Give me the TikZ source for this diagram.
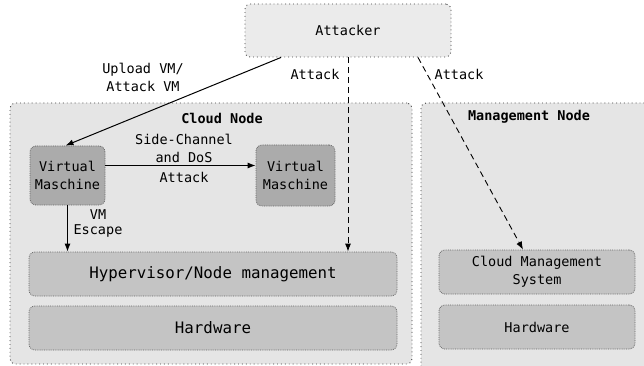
\documentclass[tikz,border=0pt]{standalone}
\usepackage{fontspec}
\setmainfont{DejaVu Sans Mono}
\usetikzlibrary{arrows.meta}
\begin{document}
\begin{tikzpicture}[x=1pt,y=-1pt,
  txt/.style={font=\fontsize{13.5}{18}\selectfont, align=center, inner sep=2pt},
  bigtxt/.style={font=\fontsize{15.8}{19}\selectfont, align=center},
  region/.style={draw=black!75, line width=0.9pt, dash pattern=on 0.9pt off 3pt,
    fill=black!10, rounded corners=5pt, inner sep=0pt},
  layer/.style={draw=black!60, line width=0.8pt, dash pattern=on 0.8pt off 1pt,
    fill=black!23, rounded corners=6pt, inner sep=0pt},
  vmbox/.style={layer, fill=black!33},
  flow/.style={line width=1pt, -{Latex[length=8pt,width=6pt]}},
  attack/.style={line width=0.9pt, dash pattern=on 6pt off 4pt, -{Latex[length=8pt,width=6pt]}}
]
\useasboundingbox (0,0) rectangle (644,366);

% outer regions
\node[region, minimum width=240pt, minimum height=275pt] (mgmt) at (541,240.5) {};
\node[region, minimum width=402pt, minimum height=261pt] (cloud) at (211,233.5) {};
\node[region, fill=black!8, minimum width=206pt, minimum height=53pt] (attacker) at (348,30.5) {};
\node[txt] at (attacker.center) {Attacker};

\node[txt, font=\fontsize{13.5}{18}\selectfont\bfseries] (cloudtitle) at (222,118) {Cloud Node};
\node[txt, font=\fontsize{13.5}{18}\selectfont\bfseries] (mgmttitle) at (529,117) {Management Node};

% cloud node contents
\node[vmbox, minimum width=75pt, minimum height=59pt] (vm1) at (67.5,175.5) {};
\node[txt] at (vm1.center) {Virtual\\Maschine};
\node[vmbox, minimum width=79pt, minimum height=61pt] (vm2) at (295.5,175.5) {};
\node[txt] at (vm2.center) {Virtual\\Maschine};
\node[layer, minimum width=368pt, minimum height=44pt] (hyp) at (213,274) {};
\node[bigtxt] at (hyp.center) {Hypervisor/Node management};
\node[layer, minimum width=368pt, minimum height=44pt] (hw1) at (213,328) {};
\node[bigtxt] at (hw1.center) {Hardware};

% management node contents
\node[layer, minimum width=196pt, minimum height=44pt] (cms) at (537,272) {};
\node[txt] at (cms.center) {Cloud Management\\System};
\node[layer, minimum width=196pt, minimum height=44pt] (hw2) at (537,327) {};
\node[txt] at (hw2.center) {Hardware};

% connectors
\draw[flow] ([xshift=-67pt]attacker.south) -- ([xshift=-2pt]vm1.north);
\node[txt] (uploadlbl) at (143,77.5) {Upload VM/\\Attack VM};

\draw[attack] (attacker.south) -- (attacker.south |- hyp.north);
\node[txt] (attacklbl1) at (315,74) {Attack};

\draw[attack] ([xshift=70pt]attacker.south) -- ([xshift=-14pt]cms.north);
\node[txt] (attacklbl2) at (459,74) {Attack};

\draw[flow] ([yshift=10pt]vm1.east) -- ([yshift=10pt]vm2.west);
\node[txt] (sclbl) at (184,148) {Side-Channel\\and DoS};
\node[txt] (dosattack) at (184,177.5) {Attack};

\draw[flow] (vm1.south) -- (vm1.south |- hyp.north);
\node[txt, font=\fontsize{13.5}{15}\selectfont] (escapelbl) at (98,223.5) {VM\\Escape};
\end{tikzpicture}
\end{document}
